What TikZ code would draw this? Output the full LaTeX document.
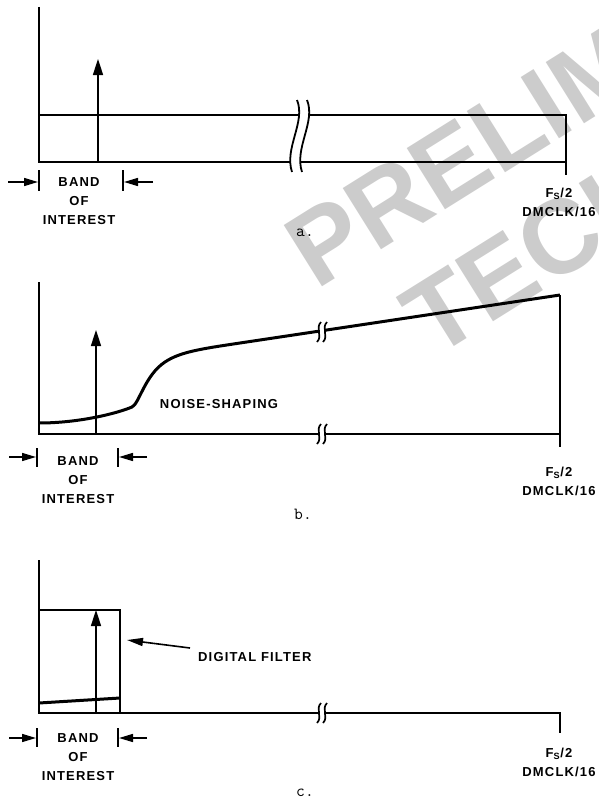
\documentclass[tikz,border=0pt]{standalone}
\usepackage{fontspec}
\setmainfont{Liberation Sans}
\newfontfamily\lblfamily[LetterSpace=9]{Liberation Sans}
\usetikzlibrary{arrows.meta}

\begin{document}
\begin{tikzpicture}[
  x=1pt, y=-1pt,
  axis/.style={line width=2.2pt},
  level/.style={line width=2pt},
  noise/.style={line width=3pt},
  tone/.style={line width=1.6pt, -{Triangle[length=16pt,width=10pt]}},
  bandtick/.style={line width=1.5pt},
  bandarrow/.style={line width=1.5pt, -{Triangle[length=14pt,width=8pt]}},
  pointer/.style={line width=1.6pt, -{Triangle[length=16pt,width=8pt]}},
  lbl/.style={
    font=\fontsize{13}{19}\lblfamily\bfseries,
    inner sep=0pt,
    align=center
  },
  tag/.style={font=\fontsize{17}{17}\ttfamily, inner sep=0pt},
  watermark/.style={
    font=\fontsize{105}{105}\selectfont\bfseries,
    text=black!20,
    inner sep=0pt,
    rotate=32,
    anchor=base west
  },
  squiggle/.pic={
    \fill[white] (-1,-10) .. controls (-7,-4) and (1,4) .. (-5,10)
      -- (1,10) .. controls (7,4) and (-1,-4) .. (5,-10) -- cycle;
    \draw[line width=1.7pt] (-1,-10) .. controls (-7,-4) and (1,4) .. (-5,10);
    \draw[line width=1.7pt] (5,-10) .. controls (-1,-4) and (7,4) .. (1,10);
  }
]
\useasboundingbox (0,0) rectangle (599,800);

% --------------------
% Watermark
% --------------------
\begin{scope}
\clip (0,0) rectangle (599,800);
\node[watermark] (wmPrelim) at (316,291) {PRELIMINARY};
\node[watermark] (wmTech) at (433,360) {TECHNICAL};
\end{scope}

% --------------------
% a. flat spectrum
% --------------------
\draw[axis] (39,7) -- (39,162) -- (566,162);
\draw[level] (39,115) -- (566,115) -- (566,175);
\fill[white] (297,100) .. controls (306,122) and (284,148) .. (292,172)
  -- (302,172) .. controls (294,148) and (316,122) .. (307,100) -- cycle;
\draw[line width=1.8pt] (297,100) .. controls (306,122) and (284,148) .. (292,172);
\draw[line width=1.8pt] (307,100) .. controls (316,122) and (294,148) .. (302,172);
\draw[tone] (98,162) -- (98,59);

\draw[bandtick] (39,170) -- (39,191);
\draw[bandtick] (123,170) -- (123,191);
\draw[bandarrow] (8,182) -- (38,182);
\draw[bandarrow] (153,182) -- (124,182);

\node[lbl] (aBand) at (79,201) {BAND\\OF\\INTEREST};
\node[lbl] (aNyq) at (559,202) {F\textsubscript{S}/2\\DMCLK/16};
\node[tag] (aTag) at (305,233) {a.};

% --------------------
% b. noise-shaping
% --------------------
\draw[axis] (39,282) -- (39,434) -- (560,434);
\draw[axis] (560,295) -- (560,447);
\draw[noise] (39,423) .. controls (80,423) and (118,413) .. (132,407)
  .. controls (139,404) and (145,375) .. (165,362)
  .. controls (180,352) and (200,349) .. (240,343) -- (560,295);
\pic at (322,434) {squiggle};
\pic at (322,332) {squiggle};
\draw[tone] (96,434) -- (96,330);

\draw[bandtick] (37,448) -- (37,467);
\draw[bandtick] (118,448) -- (118,467);
\draw[bandarrow] (9,457) -- (36,457);
\draw[bandarrow] (147,457) -- (119,457);

\node[lbl] (bShape) at (219,404) {NOISE-SHAPING};
\node[lbl] (bBand) at (78,480) {BAND\\OF\\INTEREST};
\node[lbl] (bNyq) at (559,481) {F\textsubscript{S}/2\\DMCLK/16};
\node[tag] (bTag) at (303,514) {b.};

% --------------------
% c. digital filter
% --------------------
\draw[axis] (39,560) -- (39,713) -- (560,713) -- (560,733);
\draw[level] (39,610) -- (120,610) -- (120,713);
\draw[noise] (39,703) -- (120,698);
\pic at (322,713) {squiggle};
\draw[tone] (96,713) -- (96,610);

\node[lbl, anchor=west] (cFilter) at (198,657) {DIGITAL FILTER};
\draw[pointer] (190,648) -- (127,640);

\draw[bandtick] (37,728) -- (37,747);
\draw[bandtick] (118,728) -- (118,747);
\draw[bandarrow] (9,738) -- (36,738);
\draw[bandarrow] (147,738) -- (119,738);

\node[lbl] (cBand) at (78,757) {BAND\\OF\\INTEREST};
\node[lbl] (cNyq) at (559,762) {F\textsubscript{S}/2\\DMCLK/16};
\node[tag] (cTag) at (305,793) {c.};

\end{tikzpicture}
\end{document}
